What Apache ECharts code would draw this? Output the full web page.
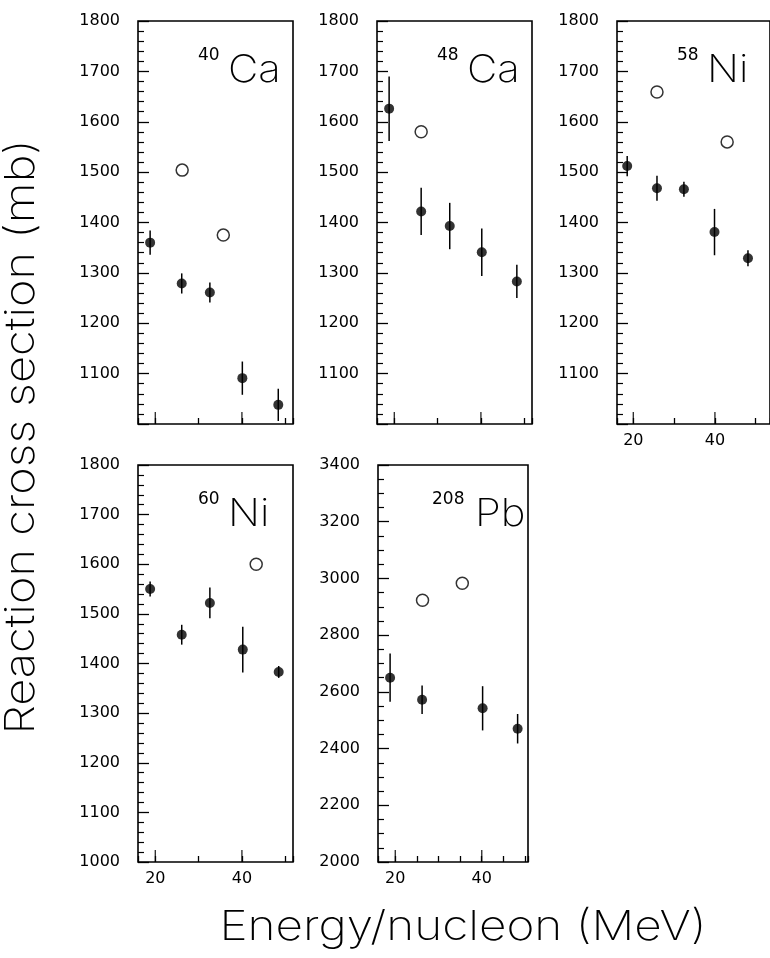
<!DOCTYPE html>
<html>
<head>
<meta charset="utf-8">
<script src="https://cdn.jsdelivr.net/npm/echarts@6/dist/echarts.min.js"></script>
<style>
  html, body { margin: 0; padding: 0; background: #fff; }
  #chart { width: 770px; height: 958px; }
</style>
</head>
<body>
<div id="chart"></div>
<script>
// 40Ca
const ca40E = [18.8, 26.1, 32.6, 40.1, 48.4];
const ca40Sig = [1360, 1279, 1261, 1091, 1038];
const ca40Err = [24, 20, 20, 33, 32];
const ca40OpenE = [26.2, 35.7];
const ca40Open = [1504, 1375];

// 48Ca
const ca48E = [18.8, 26.2, 32.8, 40.2, 48.3];
const ca48Sig = [1626, 1422, 1393, 1341, 1283];
const ca48Err = [64, 47, 46, 47, 33];
const ca48OpenE = [26.2];
const ca48Open = [1580];

// 58Ni
const ni58E = [18.5, 25.8, 32.4, 39.9, 48.1];
const ni58Sig = [1512, 1468, 1466, 1381, 1329];
const ni58Err = [20, 25, 15, 46, 16];
const ni58OpenE = [25.8, 43.0];
const ni58Open = [1659, 1560];

// 60Ni
const ni60E = [18.8, 26.1, 32.6, 40.2, 48.5];
const ni60Sig = [1550, 1458, 1522, 1428, 1383];
const ni60Err = [15, 20, 31, 46, 12];
const ni60OpenE = [43.3];
const ni60Open = [1600];

// 208Pb
const pb208E = [18.8, 26.2, 40.2, 48.3];
const pb208Sig = [2650, 2572, 2542, 2470];
const pb208Err = [85, 50, 78, 52];
const pb208OpenE = [26.3, 35.5];
const pb208Open = [2923, 2983];

const xTickValues = [20, 25, 30, 35, 40, 45, 50];
const xLabelValues = [20, 40];

const FONT = 'DejaVu Sans';
const THIN = '200 41px Inter';

const panels = [
  { mass: '40', sym: 'Ca', e: ca40E, s: ca40Sig, err: ca40Err, oe: ca40OpenE, o: ca40Open,
    left: 138, top: 21, width: 155, height: 403, xmax: 51.8, ymin: 1000, ymax: 1800, step: 100, minor: 5, showX: false, showMin: false },
  { mass: '48', sym: 'Ca', e: ca48E, s: ca48Sig, err: ca48Err, oe: ca48OpenE, o: ca48Open,
    left: 377, top: 21, width: 155, height: 403, xmax: 51.8, ymin: 1000, ymax: 1800, step: 100, minor: 5, showX: false, showMin: false },
  { mass: '58', sym: 'Ni', e: ni58E, s: ni58Sig, err: ni58Err, oe: ni58OpenE, o: ni58Open,
    left: 617, top: 21, width: 162, height: 403, xmax: 53.5, ymin: 1000, ymax: 1800, step: 100, minor: 5, showX: true, showMin: false },
  { mass: '60', sym: 'Ni', e: ni60E, s: ni60Sig, err: ni60Err, oe: ni60OpenE, o: ni60Open,
    left: 138, top: 465, width: 155, height: 397, xmax: 51.8, ymin: 1000, ymax: 1800, step: 100, minor: 5, showX: true, showMin: true },
  { mass: '208', sym: 'Pb', e: pb208E, s: pb208Sig, err: pb208Err, oe: pb208OpenE, o: pb208Open,
    left: 378, top: 465, width: 150, height: 397, xmax: 50.7, ymin: 2000, ymax: 3400, step: 200, minor: 4, showX: true, showMin: true }
];

// stretch thin text horizontally to match the wide plotter lettering
const measureCtx = document.createElement('canvas').getContext('2d');
function stretchTo(text, font, target) {
  measureCtx.font = font;
  return target / measureCtx.measureText(text).width;
}

const grids = [], xAxes = [], yAxes = [], series = [], graphics = [];

function errorBars(i, p) {
  return {
    type: 'custom', xAxisIndex: i, yAxisIndex: i,
    data: p.e.map((x, k) => [x, p.s[k] - p.err[k], p.s[k] + p.err[k]]),
    renderItem: function (params, api) {
      const lo = api.coord([api.value(0), api.value(1)]);
      const hi = api.coord([api.value(0), api.value(2)]);
      return {
        type: 'line',
        shape: { x1: lo[0], y1: lo[1], x2: hi[0], y2: hi[1] },
        style: { stroke: '#000', lineWidth: 1.5 }
      };
    },
    z: 4
  };
}

// longer ticks at the labelled energies: thin rect symbols standing on the x axis
function longXTicks(i, p) {
  return {
    type: 'scatter', xAxisIndex: i, yAxisIndex: i, clip: false, silent: true,
    data: xLabelValues.map(x => [x, p.ymin]),
    symbol: 'rect', symbolSize: [1.4, 12], symbolOffset: [0, -6],
    itemStyle: { color: '#000' }, z: 5
  };
}

panels.forEach((p, i) => {
  grids.push({
    left: p.left, top: p.top, width: p.width, height: p.height,
    show: true, borderColor: '#000', borderWidth: 1.6
  });
  xAxes.push({
    gridIndex: i, type: 'value', min: 16, max: p.xmax,
    axisLine: { show: false }, splitLine: { show: false },
    axisTick: { show: true, inside: true, length: 6, lineStyle: { color: '#000', width: 1.3 } },
    axisLabel: { show: p.showX, customValues: xTickValues, margin: 9, color: '#000', fontFamily: FONT, fontSize: 16,
      formatter: v => (xLabelValues.indexOf(v) >= 0 ? String(v) : '') }
  });
  yAxes.push({
    gridIndex: i, type: 'value', min: p.ymin, max: p.ymax, interval: p.step,
    axisLine: { show: false }, splitLine: { show: false },
    axisTick: { show: true, inside: true, length: 11, lineStyle: { color: '#000', width: 1.3 } },
    minorTick: { show: true, splitNumber: p.minor, length: 6, lineStyle: { color: '#000', width: 1.2 } },
    axisLabel: { margin: 18, color: '#000', fontFamily: FONT, fontSize: 16, showMinLabel: p.showMin, showMaxLabel: true,
      formatter: v => String(v) }
  });

  series.push(longXTicks(i, p));
  series.push(errorBars(i, p));
  series.push({
    type: 'scatter', xAxisIndex: i, yAxisIndex: i,
    data: p.e.map((x, k) => [x, p.s[k]]),
    symbol: 'circle', symbolSize: 10,
    itemStyle: { color: '#000' }, z: 6
  });
  series.push({
    type: 'scatter', xAxisIndex: i, yAxisIndex: i,
    data: p.oe.map((x, k) => [x, p.o[k]]),
    symbol: 'circle', symbolSize: 12,
    itemStyle: { color: '#fff', borderColor: '#000', borderWidth: 1.5 }, z: 6
  });

  // isotope label: superscript mass number + element symbol
  const tx = p.left + (p.mass.length === 3 ? 54 : 60);
  graphics.push({
    type: 'text', x: tx, y: p.top + 26,
    style: { text: p.mass, font: '17px "' + FONT + '"', fill: '#000', textAlign: 'left', textVerticalAlign: 'top' }
  });
  graphics.push({
    type: 'text', x: tx + (p.mass.length === 3 ? 43 : 30), y: p.top + 69, scaleX: 1.1,
    style: { text: p.sym, font: '200 38px Inter', fill: '#000', textAlign: 'left', textVerticalAlign: 'bottom' }
  });
});

const yTitle = 'Reaction cross section (mb)';
const xTitle = 'Energy/nucleon (MeV)';
graphics.push({
  type: 'text', x: 22, y: 437, rotation: Math.PI / 2, scaleX: stretchTo(yTitle, THIN, 595),
  style: { text: yTitle, font: THIN, fill: '#000', textAlign: 'center', textVerticalAlign: 'middle' }
});
graphics.push({
  type: 'text', x: 463, y: 928, scaleX: stretchTo(xTitle, THIN, 487),
  style: { text: xTitle, font: THIN, fill: '#000', textAlign: 'center', textVerticalAlign: 'middle' }
});

const chart = echarts.init(document.getElementById('chart'));
chart.setOption({
  animation: false,
  backgroundColor: '#fff',
  grid: grids,
  xAxis: xAxes,
  yAxis: yAxes,
  series: series,
  graphic: graphics
});
</script>
</body>
</html>
